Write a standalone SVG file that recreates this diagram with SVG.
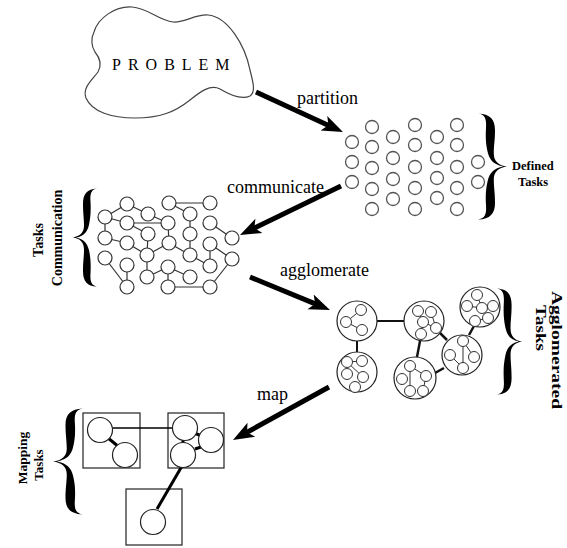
<svg xmlns="http://www.w3.org/2000/svg" width="567" height="548" viewBox="0 0 567 548">
<style>
.lbl{font-family:"Liberation Serif","Times New Roman",serif;font-size:18px;fill:#000}
.bl{font-family:"Liberation Serif","Times New Roman",serif;font-weight:bold;fill:#000}
.task{fill:#fff;stroke:#555;stroke-width:1.3}
.cn{fill:#fff;stroke:#333;stroke-width:1.2}
.ce{stroke:#333;stroke-width:1.2;fill:none}
.big{fill:#fff;stroke:#222;stroke-width:1.2}
.sm{fill:#fff;stroke:#333;stroke-width:1}
.se{stroke:#333;stroke-width:1;fill:none}
.arrow{stroke:#000;stroke-width:5;fill:none;marker-end:url(#head)}
.brace{fill:#000}
.box{fill:none;stroke:#222;stroke-width:1.2}
.mc{fill:#fff;stroke:#222;stroke-width:1.2}
</style>
<defs>
<marker id="head" markerUnits="userSpaceOnUse" markerWidth="22" markerHeight="18" viewBox="0 0 22 18" refX="13" refY="9" orient="auto">
<path d="M0,1 L21,9 L0,17 L5,9 Z" fill="#000"/>
</marker>
<path id="brace" d="M24,0.5 C14,1 10,6 10,16 C10,26 11,30 11,38 C11,45 7,49 0,50 C7,51 11,55 11,62 C11,70 10,74 10,84 C10,94 14,99 24,99.5 C18,98.5 17,94 17.5,86 C18,76 17.5,70 16,63 C14.5,56 11,51.5 3,50 C11,48.5 14.5,44 16,37 C17.5,30 18,24 17.5,14 C17,6 18,1.5 24,0.5 Z"/>
</defs>

<g id="problem">
<path d="M94,32 C98,18 115,6 132,7 C148,8 158,20 173,22 C185,23 195,14 208,15 C228,17 245,45 250,70 C253,82 256,92 250,96 C242,100 230,95 220,89 C210,84 200,92 190,100 C175,112 160,118 135,118 C112,118 92,112 86,98 C82,88 92,80 98,72 C102,65 100,58 95,52 C91,46 91,38 94,32 Z" fill="#fff" stroke="#444" stroke-width="1.2"/>
<text x="112" y="70" font-family="Liberation Serif, Times New Roman, serif" font-size="16" letter-spacing="7" fill="#000">PROBLEM</text>
</g>

<g id="connectors">
<path class="arrow" d="M256,92 L335.7,128.7"/>
<path class="arrow" d="M341,186 L247.2,231.5"/>
<path class="arrow" d="M250,277 L322.6,306.9"/>
<path class="arrow" d="M329,387 L240,436.1"/>
<text class="lbl" x="297" y="104">partition</text>
<text class="lbl" x="227" y="193">communicate</text>
<text class="lbl" x="280" y="276">agglomerate</text>
<text class="lbl" x="257" y="400">map</text>
</g>

<g id="defined-tasks">
<circle class="task" cx="352" cy="142" r="6.5"/>
<circle class="task" cx="352" cy="162" r="6.5"/>
<circle class="task" cx="352" cy="182" r="6.5"/>
<circle class="task" cx="372" cy="127" r="6.5"/>
<circle class="task" cx="372" cy="147" r="6.5"/>
<circle class="task" cx="372" cy="168" r="6.5"/>
<circle class="task" cx="372" cy="189" r="6.5"/>
<circle class="task" cx="372" cy="209" r="6.5"/>
<circle class="task" cx="393" cy="137" r="6.5"/>
<circle class="task" cx="393" cy="158" r="6.5"/>
<circle class="task" cx="393" cy="179" r="6.5"/>
<circle class="task" cx="393" cy="199" r="6.5"/>
<circle class="task" cx="415" cy="125" r="6.5"/>
<circle class="task" cx="415" cy="145" r="6.5"/>
<circle class="task" cx="415" cy="167" r="6.5"/>
<circle class="task" cx="415" cy="188" r="6.5"/>
<circle class="task" cx="415" cy="209" r="6.5"/>
<circle class="task" cx="437" cy="137" r="6.5"/>
<circle class="task" cx="437" cy="158" r="6.5"/>
<circle class="task" cx="437" cy="178" r="6.5"/>
<circle class="task" cx="437" cy="198" r="6.5"/>
<circle class="task" cx="457" cy="125" r="6.5"/>
<circle class="task" cx="457" cy="145" r="6.5"/>
<circle class="task" cx="457" cy="167" r="6.5"/>
<circle class="task" cx="457" cy="188" r="6.5"/>
<circle class="task" cx="457" cy="209" r="6.5"/>
<circle class="task" cx="478" cy="162" r="6.5"/>
<circle class="task" cx="478" cy="182" r="6.5"/>
<use href="#brace" class="brace" transform="translate(507,113) scale(-1.2,1.07)"/>
<text class="bl" font-size="12.5" x="512" y="170">Defined</text>
<text class="bl" font-size="12.5" x="518" y="186">Tasks</text>
</g>

<g id="communication">
<g class="ce">
<line x1="169" y1="203" x2="210" y2="203"/>
<line x1="127" y1="204" x2="148" y2="214"/>
<line x1="105" y1="217" x2="127" y2="204"/>
<line x1="105" y1="217" x2="127" y2="223"/>
<line x1="127" y1="223" x2="168" y2="223"/>
<line x1="148" y1="214" x2="168" y2="223"/>
<line x1="105" y1="217" x2="105" y2="238"/>
<line x1="169" y1="203" x2="190" y2="214"/>
<line x1="190" y1="214" x2="190" y2="234"/>
<line x1="210" y1="223" x2="232" y2="238"/>
<line x1="168" y1="223" x2="169" y2="243"/>
<line x1="190" y1="234" x2="190" y2="255"/>
<line x1="169" y1="243" x2="190" y2="255"/>
<line x1="148" y1="234" x2="147" y2="255"/>
<line x1="127" y1="223" x2="148" y2="234"/>
<line x1="105" y1="238" x2="127" y2="243"/>
<line x1="127" y1="243" x2="147" y2="255"/>
<line x1="147" y1="255" x2="169" y2="243"/>
<line x1="147" y1="255" x2="147" y2="277"/>
<line x1="105" y1="258" x2="127" y2="287"/>
<line x1="127" y1="265" x2="127" y2="287"/>
<line x1="210" y1="244" x2="210" y2="266"/>
<line x1="210" y1="244" x2="232" y2="259"/>
<line x1="190" y1="255" x2="210" y2="266"/>
<line x1="168" y1="267" x2="168" y2="287"/>
<line x1="168" y1="267" x2="190" y2="277"/>
<line x1="168" y1="287" x2="210" y2="287"/>
<line x1="210" y1="287" x2="232" y2="259"/>
<line x1="147" y1="277" x2="168" y2="267"/>
</g>
<circle class="cn" cx="127" cy="204" r="7"/>
<circle class="cn" cx="169" cy="203" r="7"/>
<circle class="cn" cx="210" cy="203" r="7"/>
<circle class="cn" cx="148" cy="214" r="7"/>
<circle class="cn" cx="105" cy="217" r="7"/>
<circle class="cn" cx="190" cy="214" r="7"/>
<circle class="cn" cx="127" cy="223" r="7"/>
<circle class="cn" cx="168" cy="223" r="7"/>
<circle class="cn" cx="210" cy="223" r="7"/>
<circle class="cn" cx="148" cy="234" r="7"/>
<circle class="cn" cx="190" cy="234" r="7"/>
<circle class="cn" cx="105" cy="238" r="7"/>
<circle class="cn" cx="232" cy="238" r="7"/>
<circle class="cn" cx="127" cy="243" r="7"/>
<circle class="cn" cx="169" cy="243" r="7"/>
<circle class="cn" cx="210" cy="244" r="7"/>
<circle class="cn" cx="147" cy="255" r="7"/>
<circle class="cn" cx="190" cy="255" r="7"/>
<circle class="cn" cx="105" cy="258" r="7"/>
<circle class="cn" cx="232" cy="259" r="7"/>
<circle class="cn" cx="127" cy="265" r="7"/>
<circle class="cn" cx="168" cy="267" r="7"/>
<circle class="cn" cx="210" cy="266" r="7"/>
<circle class="cn" cx="147" cy="277" r="7"/>
<circle class="cn" cx="190" cy="277" r="7"/>
<circle class="cn" cx="127" cy="287" r="7"/>
<circle class="cn" cx="168" cy="287" r="7"/>
<circle class="cn" cx="210" cy="287" r="7"/>
<use href="#brace" class="brace" transform="translate(73,188) scale(1,0.99)"/>
<text class="bl" font-size="14" text-anchor="middle" transform="translate(43,240) rotate(-90)">Tasks</text>
<text class="bl" font-size="14" text-anchor="middle" transform="translate(62,238) rotate(-90)">Communication</text>
</g>

<g id="agglomerated">
<g stroke="#111" fill="none">
<line x1="377" y1="321" x2="404" y2="321" stroke-width="2"/>
<line x1="357" y1="341" x2="357" y2="352" stroke-width="2"/>
<line x1="420" y1="341" x2="417" y2="357" stroke-width="2.5"/>
<line x1="440" y1="333" x2="447" y2="340" stroke-width="2.5"/>
<line x1="435" y1="373" x2="444" y2="368" stroke-width="2.5"/>
<line x1="474" y1="326" x2="469" y2="335" stroke-width="2.5"/>
</g>
<circle class="big" cx="357" cy="321" r="20"/>
<circle class="big" cx="357" cy="372" r="20"/>
<circle class="big" cx="424" cy="321" r="20"/>
<circle class="big" cx="415" cy="378" r="21"/>
<circle class="big" cx="480" cy="307" r="20"/>
<circle class="big" cx="462" cy="355" r="20"/>
<g class="se">
<line x1="346" y1="322" x2="361" y2="310"/>
<line x1="346" y1="322" x2="362" y2="330"/>
<line x1="347" y1="362" x2="362" y2="361"/>
<line x1="347" y1="362" x2="363" y2="377"/>
<line x1="363" y1="377" x2="355" y2="387"/>
<line x1="418" y1="311" x2="423" y2="322"/>
<line x1="423" y1="322" x2="436" y2="328"/>
<line x1="423" y1="322" x2="421" y2="334"/>
<line x1="431" y1="312" x2="436" y2="328"/>
<line x1="410" y1="366" x2="410" y2="391"/>
<line x1="410" y1="366" x2="426" y2="376"/>
<line x1="426" y1="376" x2="423" y2="391"/>
<line x1="477" y1="295" x2="482" y2="308"/>
<line x1="467" y1="306" x2="482" y2="308"/>
<line x1="482" y1="308" x2="493" y2="306"/>
<line x1="482" y1="308" x2="488" y2="318"/>
<line x1="488" y1="318" x2="475" y2="321"/>
<line x1="463" y1="341" x2="463" y2="368"/>
<line x1="463" y1="341" x2="474" y2="357"/>
<line x1="450" y1="355" x2="463" y2="368"/>
</g>
<circle class="sm" cx="361" cy="310" r="5.5"/>
<circle class="sm" cx="346" cy="322" r="5.5"/>
<circle class="sm" cx="362" cy="330" r="5.5"/>
<circle class="sm" cx="347" cy="362" r="5.5"/>
<circle class="sm" cx="362" cy="361" r="5.5"/>
<circle class="sm" cx="347" cy="374" r="5.5"/>
<circle class="sm" cx="363" cy="377" r="5.5"/>
<circle class="sm" cx="355" cy="387" r="5.5"/>
<circle class="sm" cx="418" cy="311" r="5.5"/>
<circle class="sm" cx="431" cy="312" r="5.5"/>
<circle class="sm" cx="423" cy="322" r="5.5"/>
<circle class="sm" cx="436" cy="328" r="5.5"/>
<circle class="sm" cx="421" cy="334" r="5.5"/>
<circle class="sm" cx="410" cy="366" r="5.5"/>
<circle class="sm" cx="402" cy="379" r="5.5"/>
<circle class="sm" cx="426" cy="376" r="5.5"/>
<circle class="sm" cx="410" cy="391" r="5.5"/>
<circle class="sm" cx="423" cy="391" r="5.5"/>
<circle class="sm" cx="477" cy="295" r="5.5"/>
<circle class="sm" cx="467" cy="306" r="5.5"/>
<circle class="sm" cx="482" cy="308" r="5.5"/>
<circle class="sm" cx="493" cy="306" r="5.5"/>
<circle class="sm" cx="488" cy="318" r="5.5"/>
<circle class="sm" cx="475" cy="321" r="5.5"/>
<circle class="sm" cx="463" cy="341" r="5.5"/>
<circle class="sm" cx="450" cy="355" r="5.5"/>
<circle class="sm" cx="463" cy="368" r="5.5"/>
<circle class="sm" cx="474" cy="357" r="5.5"/>
<use href="#brace" class="brace" transform="translate(522,288) scale(-1.04,1.07)"/>
<text class="bl" font-size="15" text-anchor="middle" textLength="118" lengthAdjust="spacingAndGlyphs" transform="translate(552,350) rotate(90)">Agglomerated</text>
<text class="bl" font-size="15" text-anchor="middle" textLength="46" lengthAdjust="spacingAndGlyphs" transform="translate(536,328) rotate(90)">Tasks</text>
</g>

<g id="mapping">
<rect class="box" x="83" y="413" width="57" height="55"/>
<rect class="box" x="168" y="413" width="56" height="55"/>
<rect class="box" x="126" y="489" width="56" height="56"/>
<g stroke="#000" fill="none">
<line x1="112" y1="428" x2="173" y2="428" stroke-width="1.5"/>
<line x1="108" y1="438" x2="119" y2="447" stroke-width="3"/>
<line x1="182" y1="466" x2="157" y2="509" stroke-width="3"/>
<line x1="194" y1="433" x2="202" y2="436" stroke-width="3"/>
<line x1="195" y1="449" x2="201" y2="447" stroke-width="3"/>
<line x1="183" y1="439" x2="183" y2="443" stroke-width="3"/>
</g>
<circle class="mc" cx="100" cy="430" r="12.5"/>
<circle class="mc" cx="125" cy="455" r="12.5"/>
<circle class="mc" cx="185" cy="428" r="12.5"/>
<circle class="mc" cx="211" cy="440" r="12.5"/>
<circle class="mc" cx="183" cy="455" r="12.5"/>
<circle class="mc" cx="153" cy="522" r="12.5"/>
<use href="#brace" class="brace" transform="translate(53,408) scale(1.25,1.07)"/>
<text class="bl" font-size="13.5" text-anchor="middle" transform="translate(27,458) rotate(-90)">Mapping</text>
<text class="bl" font-size="13" text-anchor="middle" transform="translate(43,465) rotate(-90)">Tasks</text>
</g>
</svg>
